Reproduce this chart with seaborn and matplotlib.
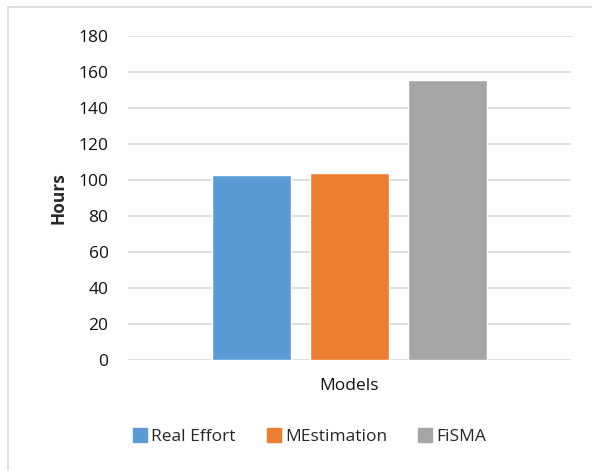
import pandas as pd
import matplotlib.pyplot as plt
import seaborn as sns
from matplotlib.lines import Line2D

# values
models = ["Real Effort", "MEstimation", "FiSMA"]
hours = [102.8, 103.9, 155.6]
colors = ["#5B9BD5", "#ED7D31", "#A5A5A5"]
category = "Models"

df = pd.DataFrame({"cat": [category] * len(models), "model": models, "hours": hours})

sns.set_style("white")
plt.rcParams["font.family"] = ["Open Sans", "DejaVu Sans"]

fig = plt.figure(figsize=(5.92, 4.71), dpi=100)
ax = fig.add_axes([0.2162, 0.2357, 0.7483, 0.6879])

sns.barplot(data=df, x="cat", y="hours", hue="model", hue_order=models,
            palette=colors, width=0.664, gap=0.2, saturation=1,
            ax=ax, legend=False)

ax.set_ylim(0, 180)
ax.set_xlim(-0.5, 0.5)
ax.set_yticks(range(0, 181, 20))
ax.yaxis.grid(True, color="#D9D9D9", linewidth=1.2)
ax.set_axisbelow(True)
for s in ax.spines.values():
    s.set_visible(False)
ax.tick_params(axis="y", length=0, pad=14, labelsize=12.5, labelcolor="#111111")
ax.tick_params(axis="x", length=0, pad=13, labelsize=12.5, labelcolor="#111111")
ax.set_xlabel("")
ax.set_ylabel("Hours", fontsize=12.5, fontweight="bold", labelpad=8)

handles = [Line2D([], [], marker="s", linestyle="", markersize=10, color=c) for c in colors]
fig.legend(handles, models, loc="center", bbox_to_anchor=(0.52, 0.072), ncol=3,
           frameon=False, fontsize=12.5, handletextpad=0.05, columnspacing=1.6,
           handlelength=1.2)

# chart border (left and top visible in the reference)
fig.add_artist(Line2D([8 / 592, 8 / 592], [0, 1 - 7 / 471], transform=fig.transFigure,
                      color="#D9D9D9", linewidth=1.2))
fig.add_artist(Line2D([8 / 592, 1], [1 - 7 / 471, 1 - 7 / 471], transform=fig.transFigure,
                      color="#D9D9D9", linewidth=1.2))

fig.savefig("out.png", dpi=100)
